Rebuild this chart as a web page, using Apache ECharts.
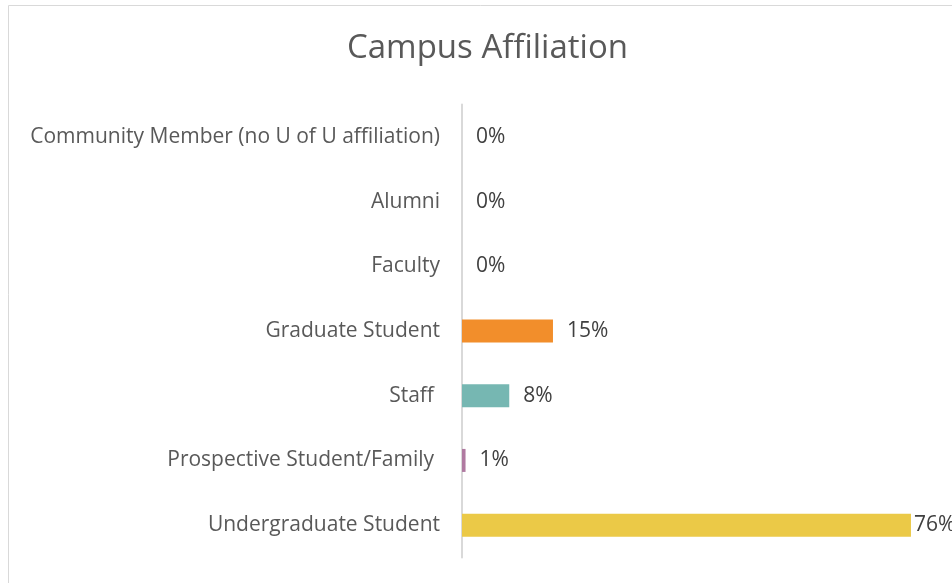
<!DOCTYPE html>
<html>
<head>
<meta charset="utf-8">
<script src="https://cdn.jsdelivr.net/npm/echarts@6/dist/echarts.min.js"></script>
<style>
  html, body { margin: 0; padding: 0; background: #fff; }
  #chart { width: 952px; height: 583px; }
</style>
</head>
<body>
<div id="chart"></div>
<script>
// categories top to bottom
var categories = [
  'Community Member (no U of U affiliation)',
  'Alumni',
  'Faculty',
  'Graduate Student',
  'Staff',
  'Prospective Student/Family',
  'Undergraduate Student'
];
var shares = [0, 0, 0, 15.4, 8.0, 0.6, 76.0];
var barColors = ['#4e79a7', '#e15759', '#59a14f', '#f28e2b', '#76b7b2', '#b07aa1', '#ebc947'];
// Excel nudged a couple of labels a bit left
var nudged = ['Staff', 'Prospective Student/Family'];

var font = '"Open Sans", "Noto Sans", sans-serif';

var seriesData = shares.map(function (v, i) {
  var item = { value: v, itemStyle: { color: barColors[i] } };
  if (v > 70) item.label = { distance: 3 };
  return item;
});

var chart = echarts.init(document.getElementById('chart'));
chart.setOption({
  animation: false,
  title: {
    text: 'Campus Affiliation',
    left: 342,
    top: 27,
    textStyle: { color: '#595959', fontSize: 33, fontWeight: 'normal', fontFamily: font }
  },
  graphic: [{
    type: 'rect',
    shape: { x: 8.5, y: 5.5, width: 1200, height: 1200 },
    style: { fill: 'none', stroke: '#d9d9d9', lineWidth: 1 },
    silent: true
  }],
  grid: { left: 462, top: 104.5, height: 453, right: 17.4 },
  xAxis: {
    type: 'value',
    min: 0,
    max: 80,
    show: false
  },
  yAxis: {
    type: 'category',
    inverse: true,
    data: categories,
    axisLine: { show: true, lineStyle: { color: '#d9d9d9', width: 2 } },
    axisTick: { show: false },
    axisLabel: {
      margin: 22,
      color: '#595959',
      fontSize: 21,
      fontFamily: font,
      formatter: function (v) {
        return nudged.indexOf(v) >= 0 ? '{n|' + v + '}' : v;
      },
      rich: {
        n: { color: '#595959', fontSize: 21, fontFamily: font, padding: [0, 6, 0, 0] }
      }
    }
  },
  series: [{
    type: 'bar',
    barWidth: 23,
    data: seriesData,
    label: {
      show: true,
      position: 'right',
      distance: 14,
      color: '#404040',
      fontSize: 21,
      fontFamily: font,
      formatter: function (p) { return Math.round(p.value) + '%'; }
    }
  }]
});
</script>
</body>
</html>
